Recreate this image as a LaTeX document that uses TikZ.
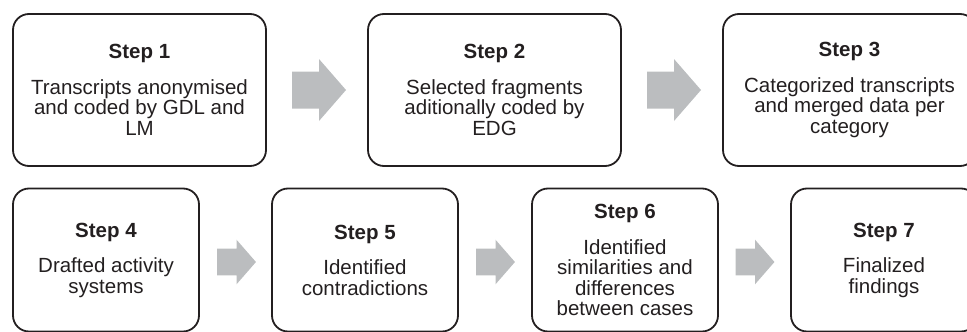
\documentclass[tikz,border=0pt]{standalone}
\usepackage{fontspec}
\setmainfont{Liberation Sans}
\definecolor{boxline}{RGB}{35,31,32}
\definecolor{arrowgray}{RGB}{187,189,191}
\tikzset{
  stepbox/.style={draw=boxline, line width=1.8pt, rounded corners=16pt,
    inner sep=0pt, align=center, text=boxline,
    font=\fontsize{20.5}{20.5}\selectfont},
  topbox/.style={stepbox, minimum width=253pt, minimum height=152pt},
  botbox/.style={stepbox, minimum width=186pt, minimum height=143pt},
  pics/blockarrow/.style={code={
    \fill[arrowgray] (-27,-18.5) -- (0,-18.5) -- (0,-31) -- (27,0)
      -- (0,31) -- (0,18.5) -- (-27,18.5) -- cycle;}}
}
\begin{document}
\begin{tikzpicture}[x=1pt,y=-1pt]
\useasboundingbox (0,0) rectangle (967,332);
\clip (0,0) rectangle (967,332);
\node[topbox] (s1) at (139.5,90) {\textbf{Step 1}\\[15pt]Transcripts anonymised\\and coded by GDL and\\LM};
\node[topbox] (s2) at (494.5,90) {\textbf{Step 2}\\[15pt]Selected fragments\\aditionally coded by\\EDG};
\node[topbox] (s3) at (849.5,90) {\textbf{Step 3}\\[15pt]Categorized transcripts\\and merged data per\\category};
\node[botbox] (s4) at (106,260) {\textbf{Step 4}\\[15pt]Drafted activity\\systems};
\node[botbox] (s5) at (365,260) {\textbf{Step 5}\\[15pt]Identified\\contradictions};
\node[botbox] (s6) at (625,260) {\textbf{Step 6}\\[15pt]Identified\\similarities and\\differences\\between cases};
\node[botbox] (s7) at (884,260) {\textbf{Step 7}\\[15pt]Finalized\\findings};
\coordinate (a12) at (319,90);
\coordinate (a23) at (674,90);
\coordinate (a45) at (236.5,262);
\coordinate (a56) at (495.5,262);
\coordinate (a67) at (755,262);
\pic at (a12) {blockarrow};
\pic at (a23) {blockarrow};
\pic[scale=0.72] at (a45) {blockarrow};
\pic[scale=0.72] at (a56) {blockarrow};
\pic[scale=0.72] at (a67) {blockarrow};
\end{tikzpicture}
\end{document}
